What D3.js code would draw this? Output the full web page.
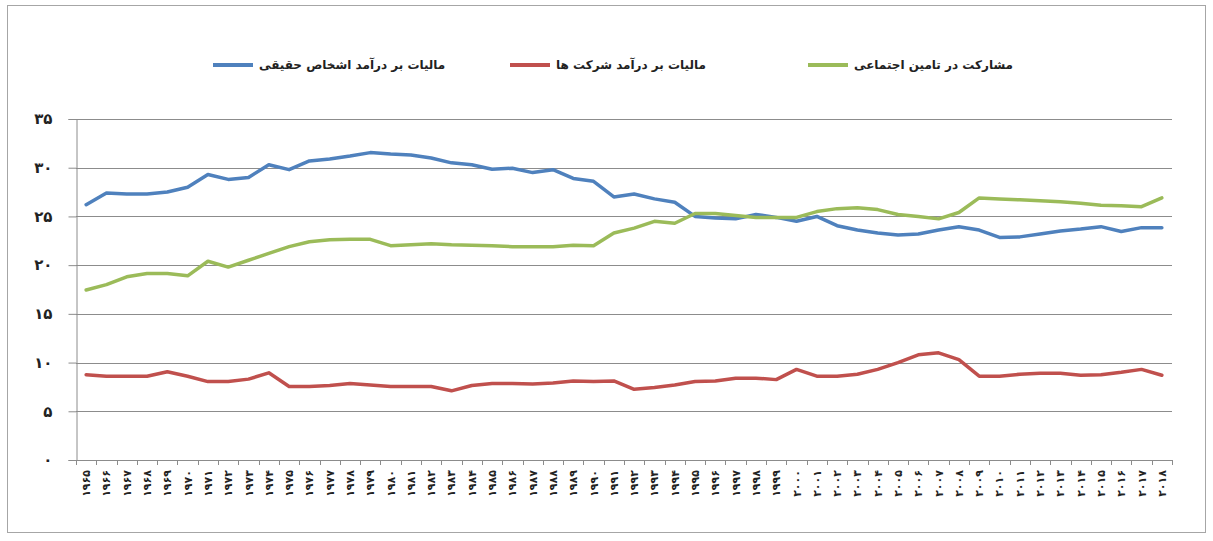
<!DOCTYPE html>
<html>
<head>
<meta charset="utf-8">
<script src="https://cdn.jsdelivr.net/npm/d3@7"></script>
<style>
  body { margin: 0; background: #fff; }
  text { font-family: "DejaVu Sans", "Noto Sans", sans-serif; }
</style>
</head>
<body>
<svg width="1213" height="541"></svg>
<script>
// years 1965..2018
const years = [1965,1966,1967,1968,1969,1970,1971,1972,1973,1974,1975,1976,1977,1978,1979,1980,1981,1982,1983,1984,1985,1986,1987,1988,1989,1990,1991,1992,1993,1994,1995,1996,1997,1998,1999,2000,2001,2002,2003,2004,2005,2006,2007,2008,2009,2010,2011,2012,2013,2014,2015,2016,2017,2018];

const personalTax = [26.2,27.4,27.3,27.3,27.5,28.0,29.3,28.8,29.0,30.3,29.8,30.7,30.9,31.2,31.55,31.4,31.3,31.0,30.5,30.3,29.85,29.95,29.5,29.8,28.9,28.6,27.0,27.3,26.8,26.45,25.0,24.85,24.75,25.2,24.9,24.5,25.0,24.05,23.6,23.3,23.1,23.2,23.6,23.95,23.6,22.85,22.9,23.2,23.5,23.7,23.95,23.45,23.85,23.85];
const corporateTax = [8.75,8.6,8.6,8.6,9.05,8.6,8.05,8.05,8.3,8.95,7.55,7.55,7.65,7.85,7.7,7.55,7.55,7.55,7.1,7.65,7.85,7.85,7.8,7.9,8.1,8.05,8.12,7.25,7.45,7.7,8.05,8.1,8.4,8.4,8.25,9.3,8.6,8.6,8.8,9.3,10.0,10.8,11.0,10.3,8.6,8.6,8.8,8.9,8.9,8.7,8.75,9.0,9.3,8.7];
const socialSecurity = [17.45,18.0,18.8,19.15,19.15,18.9,20.4,19.8,20.5,21.2,21.9,22.4,22.6,22.65,22.65,22.0,22.1,22.2,22.1,22.05,22.0,21.9,21.9,21.9,22.05,22.0,23.3,23.8,24.5,24.3,25.3,25.3,25.1,24.9,24.9,24.9,25.5,25.8,25.9,25.7,25.2,25.0,24.75,25.4,26.9,26.8,26.7,26.6,26.5,26.35,26.15,26.1,26.0,26.9];

const seriesNames = ["مالیات بر درآمد اشخاص حقیقی", "مالیات بر درآمد شرکت ها", "مشارکت در تامین اجتماعی"];
const seriesColors = ["#4f81bd", "#c0504d", "#9bbb59"];
const yTicks = [0,5,10,15,20,25,30,35];

const faDigits = "۰۱۲۳۴۵۶۷۸۹";
function fa(n) { return String(n).replace(/[0-9]/g, d => faDigits[+d]); }

const svg = d3.select("svg");

// outer frame
svg.append("rect")
  .attr("x", 7.5).attr("y", 5.5)
  .attr("width", 1198).attr("height", 527)
  .attr("fill", "none").attr("stroke", "#a6a6a6").attr("stroke-width", 1);

const plot = {left: 76, right: 1172, top: 119, bottom: 460};

const x = d3.scaleBand().domain(years).range([plot.left, plot.right]).paddingInner(0).paddingOuter(0);
const y = d3.scaleLinear().domain([0, 35]).range([plot.bottom, plot.top]);

// gridlines
svg.append("g")
  .selectAll("line")
  .data(yTicks.filter(d => d > 0))
  .enter().append("line")
  .attr("x1", plot.left).attr("x2", plot.right)
  .attr("y1", d => Math.round(y(d)) + 0.5).attr("y2", d => Math.round(y(d)) + 0.5)
  .attr("stroke", "#8c8c8c").attr("stroke-width", 1);

// y axis
const yAxis = svg.append("g")
  .attr("transform", "translate(" + (plot.left + 0.5) + ",0)")
  .call(d3.axisLeft(y).tickValues(yTicks).tickSize(8).tickPadding(16).tickFormat(fa));
yAxis.select(".domain").attr("stroke", "#8c8c8c");
yAxis.selectAll(".tick line").attr("stroke", "#8c8c8c");
yAxis.selectAll(".tick text")
  .attr("font-size", 15).attr("font-weight", "bold").attr("fill", "#222");

// x axis line and category ticks
const xAxisG = svg.append("g");
xAxisG.append("line")
  .attr("x1", plot.left).attr("x2", plot.right)
  .attr("y1", plot.bottom + 0.5).attr("y2", plot.bottom + 0.5)
  .attr("stroke", "#8c8c8c");
xAxisG.selectAll("line.tk")
  .data(years.concat([null]))
  .enter().append("line")
  .attr("class", "tk")
  .attr("x1", d => Math.round(d === null ? plot.right : x(d)) + 0.5)
  .attr("x2", d => Math.round(d === null ? plot.right : x(d)) + 0.5)
  .attr("y1", plot.bottom).attr("y2", plot.bottom + 5)
  .attr("stroke", "#8c8c8c");
xAxisG.selectAll("text")
  .data(years)
  .enter().append("text")
  .attr("transform", d => "translate(" + (x(d) + x.bandwidth() / 2 + 4) + "," + (plot.bottom + 10) + ") rotate(-90)")
  .attr("text-anchor", "end")
  .attr("font-size", 11).attr("font-weight", "bold").attr("fill", "#222")
  .text(d => fa(d));

// lines
const line = d3.line()
  .x((d, i) => x(years[i]) + x.bandwidth() / 2)
  .y(d => y(d));

[personalTax, corporateTax, socialSecurity].forEach(function(vals, k) {
  svg.append("path")
    .datum(vals)
    .attr("fill", "none")
    .attr("stroke", seriesColors[k])
    .attr("stroke-width", 3.5)
    .attr("stroke-linejoin", "round")
    .attr("stroke-linecap", "round")
    .attr("d", line);
});

// legend
const legendX = [213, 510, 808];
const legend = svg.append("g");
seriesNames.forEach(function(name, k) {
  legend.append("line")
    .attr("x1", legendX[k]).attr("x2", legendX[k] + 40)
    .attr("y1", 65).attr("y2", 65)
    .attr("stroke", seriesColors[k]).attr("stroke-width", 4);
  legend.append("text")
    .attr("x", legendX[k] + 46).attr("y", 69)
    .attr("text-anchor", "end")
    .attr("direction", "rtl")
    .attr("font-size", 12).attr("font-weight", "bold").attr("fill", "#222")
    .text(name);
});
</script>
</body>
</html>
